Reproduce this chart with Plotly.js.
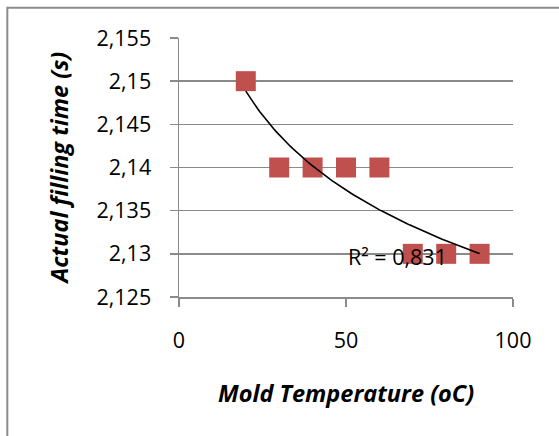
<!DOCTYPE html>
<html>
<head>
<meta charset="utf-8">
<script src="https://cdn.plot.ly/plotly-3.0.1.min.js"></script>
<style>
  html, body { margin: 0; padding: 0; background: #ffffff; }
  #chart { width: 559px; height: 436px; }
</style>
</head>
<body>
<div id="chart"></div>
<script>
// Data
const moldTemperature = [20, 30, 40, 50, 60, 70, 80, 90];
const fillingTime = [2.15, 2.14, 2.14, 2.14, 2.14, 2.13, 2.13, 2.13];
const yTickValues = [2.125, 2.13, 2.135, 2.14, 2.145, 2.15, 2.155];
const yTickLabels = ['2,125', '2,13', '2,135', '2,14', '2,145', '2,15', '2,155'];
const xTickValues = [0, 50, 100];
const xTickLabels = ['0', '50', '100'];
const xTitle = 'Mold Temperature (oC)';
const yTitle = 'Actual filling time (s)';
const rSquaredLabel = 'R² = 0,831';

// Logarithmic trendline (least squares on ln x), as Excel computes it
const lnX = moldTemperature.map(v => Math.log(v));
const n = lnX.length;
const mx = lnX.reduce((a, b) => a + b, 0) / n;
const my = fillingTime.reduce((a, b) => a + b, 0) / n;
let sxy = 0, sxx = 0;
for (let i = 0; i < n; i++) {
  sxy += (lnX[i] - mx) * (fillingTime[i] - my);
  sxx += (lnX[i] - mx) * (lnX[i] - mx);
}
const slope = sxy / sxx;
const intercept = my - slope * mx;
const xMin = Math.min(...moldTemperature), xMax = Math.max(...moldTemperature);
const trendX = [], trendY = [];
for (let k = 0; k <= 100; k++) {
  const xv = xMin + (xMax - xMin) * k / 100;
  trendX.push(xv);
  trendY.push(intercept + slope * Math.log(xv));
}

const FONT = "'Open Sans', 'Liberation Sans', sans-serif";
const GRID = '#8a8a8a';
const TICK_SIZE = 21.5;
const TITLE_SIZE = 23.5;

const traces = [
  {
    x: moldTemperature,
    y: fillingTime,
    type: 'scatter',
    mode: 'markers',
    marker: { symbol: 'square', size: 20, color: '#C0504D', line: { width: 0 } },
    hoverinfo: 'x+y',
    showlegend: false
  },
  {
    x: trendX,
    y: trendY,
    type: 'scatter',
    mode: 'lines',
    line: { color: '#000000', width: 1.6 },
    hoverinfo: 'skip',
    showlegend: false
  }
];

const layout = {
  width: 559,
  height: 436,
  margin: { l: 179.3, r: 45.7, t: 38.3, b: 139 },
  paper_bgcolor: '#ffffff',
  plot_bgcolor: '#ffffff',
  separators: ',.',
  font: { family: FONT, size: TICK_SIZE, color: '#000000' },
  showlegend: false,
  xaxis: {
    range: [0, 100],
    tickmode: 'array',
    tickvals: xTickValues,
    ticktext: xTickLabels,
    showgrid: false,
    zeroline: false,
    showline: true,
    linecolor: GRID,
    linewidth: 1.5,
    ticks: 'outside',
    ticklen: 8,
    tickwidth: 1.5,
    tickcolor: GRID,
    ticklabelstandoff: 16,
    tickfont: { family: FONT, size: TICK_SIZE, color: '#000000' }
  },
  yaxis: {
    range: [2.125, 2.155],
    tickmode: 'array',
    tickvals: yTickValues,
    ticktext: yTickLabels,
    showgrid: true,
    gridcolor: GRID,
    gridwidth: 1.5,
    zeroline: false,
    showline: true,
    linecolor: GRID,
    linewidth: 1.5,
    ticks: 'outside',
    ticklen: 8,
    tickwidth: 1.5,
    tickcolor: GRID,
    ticklabelstandoff: 14,
    tickfont: { family: FONT, size: TICK_SIZE, color: '#000000' }
  },
  annotations: [
    {
      x: 65.3,
      y: 2.1297,
      xref: 'x',
      yref: 'y',
      text: rSquaredLabel,
      showarrow: false,
      font: { family: FONT, size: TICK_SIZE, color: '#000000' },
      xanchor: 'center',
      yanchor: 'middle'
    },
    {
      x: 0.5,
      y: 0,
      xref: 'paper',
      yref: 'paper',
      text: '<b><i>' + xTitle + '</i></b>',
      showarrow: false,
      font: { family: FONT, size: TITLE_SIZE, color: '#000000' },
      xanchor: 'center',
      yanchor: 'middle',
      yshift: -96
    },
    {
      x: 0,
      y: 0.5,
      xref: 'paper',
      yref: 'paper',
      text: '<b><i>' + yTitle + '</i></b>',
      showarrow: false,
      textangle: -90,
      font: { family: FONT, size: TITLE_SIZE, color: '#000000' },
      xanchor: 'center',
      yanchor: 'middle',
      xshift: -121,
      yshift: -1
    }
  ],
  shapes: [
    {
      type: 'rect',
      xref: 'paper',
      yref: 'paper',
      x0: -0.514,
      x1: 1.4,
      y0: -0.7,
      y1: 1.117,
      line: { color: '#8c8c8c', width: 2 },
      fillcolor: 'rgba(0,0,0,0)',
      layer: 'below'
    }
  ]
};

Plotly.newPlot('chart', traces, layout, { displayModeBar: false, staticPlot: true });
</script>
</body>
</html>
